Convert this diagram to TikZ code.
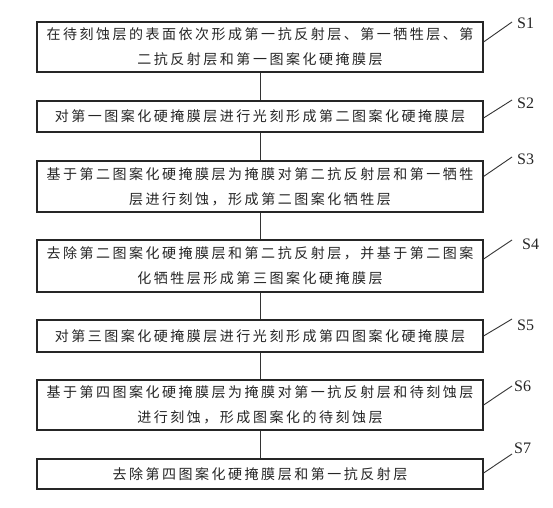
\documentclass[tikz,border=0pt]{standalone}
\usepackage{fontspec}
\newfontfamily\cjk[LetterSpace=18]{Noto Sans CJK SC}
\newfontfamily\lbl{Liberation Serif}
\begin{document}
\begin{tikzpicture}[x=1pt,y=-1pt,
  stepbox/.style={draw=black!85,line width=1.1pt,minimum width=446pt,inner sep=0pt,
    align=center,text=black!85,font=\cjk\fontsize{14}{25}\selectfont},
  tag/.style={anchor=west,inner sep=0pt,text=black!85,font=\lbl\fontsize{16}{16}\selectfont},
  link/.style={draw=black!80,line width=0.9pt},
  lead/.style={draw=black!80,line width=0.9pt}]
\useasboundingbox (0,0) rectangle (553,507);
\fill[white] (0,0) rectangle (553,507);
\node[stepbox,minimum height=50pt] (s1) at (260,47) {在待刻蚀层的表面依次形成第一抗反射层、第一牺牲层、第\\二抗反射层和第一图案化硬掩膜层};
\node[stepbox,minimum height=31pt] (s2) at (260,116.5) {对第一图案化硬掩膜层进行光刻形成第二图案化硬掩膜层};
\node[stepbox,minimum height=51pt] (s3) at (260,186.5) {基于第二图案化硬掩膜层为掩膜对第二抗反射层和第一牺牲\\层进行刻蚀，形成第二图案化牺牲层};
\node[stepbox,minimum height=52pt] (s4) at (260,266) {去除第二图案化硬掩膜层和第二抗反射层，并基于第二图案\\化牺牲层形成第三图案化硬掩膜层};
\node[stepbox,minimum height=32pt] (s5) at (260,336) {对第三图案化硬掩膜层进行光刻形成第四图案化硬掩膜层};
\node[stepbox,minimum height=50pt] (s6) at (260,405) {基于第四图案化硬掩膜层为掩膜对第一抗反射层和待刻蚀层\\进行刻蚀，形成图案化的待刻蚀层};
\node[stepbox,minimum height=30pt] (s7) at (260,474) {去除第四图案化硬掩膜层和第一抗反射层};
\foreach \a/\b in {s1/s2,s2/s3,s3/s4,s4/s5,s5/s6,s6/s7}
  \draw[link] (\a.south) -- (\b.north);
\coordinate (e1) at (512,22);
\coordinate (e2) at (512,100);
\coordinate (e3) at (512,157);
\coordinate (e4) at (512,240);
\coordinate (e5) at (512,319);
\coordinate (e6) at (512,386);
\coordinate (e7) at (512,454);
\draw[lead] ([yshift=5pt]s1.east) -- (e1);
\draw[lead] ([yshift=-1.5pt]s2.east) -- (e2);
\draw[lead] ([yshift=10pt]s3.east) -- (e3);
\draw[lead] ([yshift=7pt]s4.east) -- (e4);
\draw[lead] (s5.east) -- (e5);
\draw[lead] (s6.east) -- (e6);
\draw[lead] ([yshift=1pt]s7.east) -- (e7);
\node[tag] (t1) at (517,23) {S1};
\node[tag] (t2) at (517,103) {S2};
\node[tag] (t3) at (517,159) {S3};
\node[tag] (t4) at (522,244) {S4};
\node[tag] (t5) at (517,325) {S5};
\node[tag] (t6) at (514,386) {S6};
\node[tag] (t7) at (514,448) {S7};
\end{tikzpicture}
\end{document}
